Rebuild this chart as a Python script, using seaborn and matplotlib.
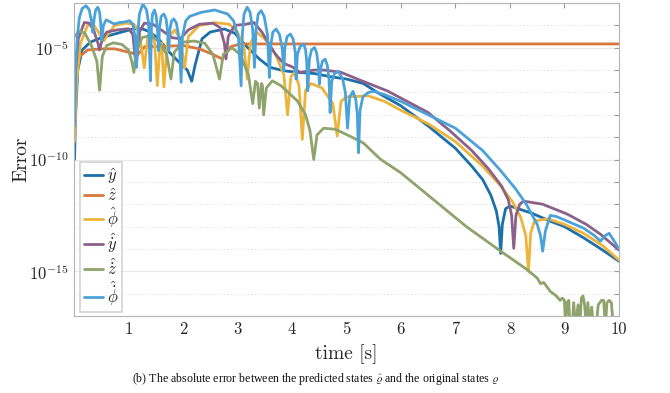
import numpy as np
import pandas as pd
import seaborn as sns
import matplotlib
matplotlib.use("Agg")
import matplotlib.pyplot as plt

# (time [s], log10 of absolute error)
y_hat = [(0.01, -10.0), (0.03, -8.0), (0.07, -6.0), (0.15, -5.1), (0.3, -4.75), (0.5, -4.55),
         (0.8, -4.35), (1.1, -4.15), (1.25, -4.15), (1.4, -4.3), (1.55, -4.6), (1.75, -5.2),
         (1.95, -5.7), (2.08, -6.0), (2.16, -6.5), (2.22, -5.8), (2.35, -4.6), (2.5, -4.3),
         (2.76, -4.16), (2.95, -4.35), (3.15, -4.9), (3.4, -5.5), (3.6, -5.88), (3.85, -6.03),
         (4.1, -6.1), (4.4, -6.15), (4.72, -6.3), (5.0, -6.4), (5.31, -6.6), (5.6, -7.05),
         (6.0, -7.6), (6.5, -8.5), (7.0, -9.5), (7.3, -10.3), (7.5, -10.9), (7.65, -11.6),
         (7.75, -12.3), (7.8, -13.0), (7.83, -14.2), (7.86, -12.9), (7.92, -12.2), (8.0, -12.08),
         (8.15, -12.2), (8.4, -12.4), (8.74, -12.76), (9.0, -13.0), (9.35, -13.5), (9.7, -14.05),
         (9.85, -14.3), (10.0, -14.55)]

z_hat = [(0.01, -8.0), (0.04, -6.0), (0.1, -5.4), (0.25, -5.1), (0.5, -5.05), (0.75, -5.05),
         (1.0, -5.2), (1.17, -5.3), (1.3, -4.95), (1.55, -4.95), (2.0, -4.9), (2.3, -5.05),
         (2.55, -5.3), (2.72, -5.5), (2.88, -4.95), (3.05, -4.83), (10.0, -4.83)]

phi_hat = [(0.01, -9.2), (0.05, -6.5), (0.12, -4.8), (0.25, -4.0), (0.35, -3.95), (0.45, -4.3),
           (0.55, -4.7), (0.62, -4.4), (0.75, -4.0), (0.95, -3.9), (1.1, -3.95), (1.2, -4.3),
           (1.29, -5.9), (1.35, -4.6), (1.42, -4.3), (1.48, -4.8), (1.53, -6.7), (1.58, -4.8),
           (1.61, -4.8), (1.65, -6.75), (1.72, -4.6), (1.85, -4.2), (1.95, -4.6), (2.03, -5.9),
           (2.1, -4.5), (2.3, -4.0), (2.6, -3.88), (2.85, -3.95), (3.0, -4.3), (3.12, -5.0),
           (3.18, -6.4), (3.24, -4.8), (3.35, -4.3), (3.5, -4.6), (3.7, -5.3), (3.85, -6.2),
           (3.92, -8.0), (3.98, -6.3), (4.05, -6.1), (4.13, -6.7), (4.19, -9.1), (4.25, -6.9),
           (4.35, -6.6), (4.55, -6.8), (4.75, -7.5), (4.83, -8.95), (4.9, -7.4), (5.0, -7.2),
           (5.4, -7.15), (5.7, -7.4), (6.0, -7.8), (6.5, -8.4), (7.0, -9.2), (7.5, -10.3),
           (7.8, -11.1), (8.05, -11.9), (8.2, -12.6), (8.29, -13.4), (8.34, -15.0), (8.38, -13.3),
           (8.45, -12.75), (8.7, -12.65), (9.0, -12.9), (9.35, -13.3), (9.7, -13.85), (10.0, -14.5)]

ydot_hat = [(0.01, -7.5), (0.03, -6.0), (0.08, -4.6), (0.19, -3.87), (0.28, -3.9), (0.36, -4.2),
            (0.44, -4.8), (0.47, -5.1), (0.52, -4.6), (0.6, -4.3), (0.8, -4.2), (1.0, -4.15),
            (1.08, -4.4), (1.14, -5.85), (1.2, -4.3), (1.29, -3.9), (1.45, -3.95), (1.6, -4.2),
            (1.8, -4.55), (1.95, -4.6), (2.1, -4.2), (2.3, -3.95), (2.55, -3.9), (2.68, -4.1),
            (2.76, -4.8), (2.79, -5.5), (2.83, -4.5), (2.95, -4.0), (3.15, -3.95), (3.3, -3.87),
            (3.45, -4.3), (3.57, -4.8), (3.7, -5.3), (3.85, -5.7), (4.0, -5.85), (4.15, -6.1),
            (4.4, -6.0), (4.6, -6.0), (4.9, -6.1), (5.2, -6.4), (5.75, -6.93), (6.5, -7.9),
            (6.9, -8.72), (7.3, -9.6), (7.6, -10.4), (7.85, -11.2), (7.97, -11.8), (8.03, -12.5),
            (8.07, -13.97), (8.11, -12.5), (8.18, -12.0), (8.25, -11.86), (8.6, -12.0),
            (9.05, -12.44), (9.4, -12.9), (9.66, -13.34), (10.0, -14.05)]

zdot_hat = [(0.01, -4.5), (0.1, -4.25), (0.2, -4.35), (0.32, -4.9), (0.42, -5.6), (0.47, -6.9),
            (0.52, -5.4), (0.6, -4.9), (0.72, -4.78), (0.88, -4.85), (1.0, -5.1), (1.06, -5.6),
            (1.1, -6.1), (1.14, -5.2), (1.25, -4.55), (1.4, -4.45), (1.55, -4.7), (1.7, -5.3),
            (1.78, -6.4), (1.84, -5.2), (2.0, -4.75), (2.2, -4.7), (2.4, -4.8), (2.55, -5.3),
            (2.67, -6.4), (2.74, -5.3), (2.9, -5.0), (3.05, -5.3), (3.2, -6.2), (3.28, -7.5),
            (3.33, -6.5), (3.37, -6.6), (3.40, -7.7), (3.44, -6.6), (3.46, -6.7), (3.48, -8.0),
            (3.53, -6.8), (3.64, -6.48), (3.8, -6.7), (4.1, -7.38), (4.25, -8.0), (4.33, -8.7),
            (4.4, -10.0), (4.46, -8.9), (4.58, -8.6), (4.8, -8.65), (5.1, -9.0), (5.31, -9.26),
            (5.62, -9.98), (6.0, -10.6), (6.63, -11.86), (7.2, -13.0), (7.83, -14.1),
            (8.3, -14.9), (8.5, -15.3), (8.56, -15.55), (8.62, -15.5), (8.74, -15.9),
            (8.85, -16.1), (8.92, -16.3), (8.96, -16.2), (9.0, -16.3), (9.02, -17.5),
            (9.05, -16.4), (9.08, -16.3), (9.1, -17.5), (9.14, -17.5), (9.17, -16.4), (9.2, -17.5),
            (9.25, -16.5), (9.28, -17.5), (9.31, -16.2), (9.34, -16.1), (9.37, -16.5), (9.4, -17.5),
            (9.43, -16.4), (9.46, -17.5), (9.5, -16.6), (9.53, -17.5), (9.58, -17.5), (9.62, -16.5),
            (9.68, -16.3), (9.72, -16.3), (9.75, -17.5), (9.78, -16.4), (9.82, -16.3),
            (9.86, -16.4), (9.9, -17.5), (10.0, -17.5)]

phidot_hat = [(0.01, -8.5), (0.03, -6.0), (0.06, -4.5), (0.10, -3.64), (0.15, -3.25), (0.22, -3.12),
              (0.28, -3.3), (0.32, -3.8), (0.345, -4.31), (0.37, -3.7), (0.40, -3.3), (0.437, -3.19),
              (0.47, -3.4), (0.49, -3.9), (0.51, -4.69), (0.54, -4.0), (0.59, -3.75), (0.67, -3.85),
              (0.74, -3.94), (0.84, -3.87), (0.93, -3.85), (1.02, -3.79), (1.08, -3.95), (1.12, -4.5),
              (1.147, -5.88), (1.17, -4.4), (1.20, -3.5), (1.263, -3.04), (1.33, -3.3), (1.37, -3.9),
              (1.404, -6.48), (1.42, -4.2), (1.44, -3.5), (1.477, -3.31), (1.51, -3.6), (1.535, -4.3),
              (1.55, -5.13), (1.57, -4.1), (1.60, -3.6), (1.648, -3.49), (1.69, -3.7), (1.72, -4.3),
              (1.74, -5.13), (1.76, -4.2), (1.79, -3.8), (1.832, -3.71), (1.88, -3.9), (1.93, -4.6),
              (1.966, -6.55), (1.99, -4.5), (2.05, -3.8), (2.12, -3.6), (2.33, -3.42), (2.58, -3.31),
              (2.82, -3.49), (2.93, -3.8), (3.02, -4.6), (3.067, -6.70), (3.09, -4.4), (3.12, -3.5),
              (3.177, -3.19), (3.23, -3.4), (3.28, -4.2), (3.312, -5.88), (3.34, -4.2), (3.38, -3.5),
              (3.434, -3.34), (3.49, -3.6), (3.55, -4.4), (3.587, -6.33), (3.61, -4.9), (3.65, -4.3),
              (3.709, -4.16), (3.77, -4.4), (3.82, -5.0), (3.85, -6.03), (3.87, -5.0), (3.91, -4.5),
              (3.972, -4.39), (4.02, -4.6), (4.06, -5.2), (4.076, -6.40), (4.10, -5.3), (4.15, -4.95),
              (4.217, -4.83), (4.25, -5.1), (4.27, -5.6), (4.29, -6.93), (4.32, -5.5), (4.36, -5.1),
              (4.413, -4.99), (4.45, -5.2), (4.48, -5.7), (4.505, -6.63), (4.53, -5.9), (4.56, -5.6),
              (4.609, -5.51), (4.65, -5.8), (4.68, -6.4), (4.70, -7.9), (4.73, -6.5), (4.78, -6.15),
              (4.85, -6.05), (4.93, -6.4), (4.98, -7.0), (5.02, -8.6), (5.06, -7.2), (5.12, -6.95),
              (5.17, -7.3), (5.20, -8.0), (5.22, -9.7), (5.25, -7.8), (5.3, -7.2), (5.4, -7.0),
              (5.5, -6.95), (5.7, -7.1), (6.0, -7.4), (6.5, -8.0), (7.0, -8.6), (7.5, -9.6),
              (7.83, -10.5), (8.1, -11.3), (8.3, -12.0), (8.5, -12.9), (8.56, -13.4), (8.6, -14.1),
              (8.65, -13.2), (8.74, -12.5), (8.85, -12.55), (9.0, -12.7), (9.35, -13.07),
              (9.55, -13.4), (9.66, -13.65), (9.75, -13.4), (9.82, -13.3), (9.9, -13.6), (10.0, -14.0)]

labels = [r"$\hat{y}$", r"$\hat{z}$", r"$\hat{\phi}$",
          r"$\hat{\dot{y}}$", r"$\hat{\dot{z}}$", r"$\hat{\dot{\phi}}$"]
colors = ["#1d6fa9", "#d9773f", "#edb43c", "#8c6088", "#8fa36c", "#4ba2d8"]
series = [y_hat, z_hat, phi_hat, ydot_hat, zdot_hat, phidot_hat]

sns.set_theme(style="white")
plt.rcParams["font.family"] = ["serif"]
plt.rcParams["font.serif"] = ["cmr10", "DejaVu Serif"]
plt.rcParams["mathtext.fontset"] = "cm"
plt.rcParams["axes.unicode_minus"] = False
plt.rcParams["axes.formatter.use_mathtext"] = True

fig = plt.figure(figsize=(6.70, 3.93), dpi=100)
ax = fig.add_axes([0.1104, 0.1959, 0.8134, 0.7964])

for pts, lab, col in zip(series, labels, colors):
    df = pd.DataFrame(pts, columns=["time", "logerr"])
    df["err"] = 10.0 ** df["logerr"]
    sns.lineplot(data=df, x="time", y="err", color=col, lw=2.0, label=lab,
                 ax=ax, sort=False, estimator=None)

ax.set_yscale("log")
ax.set_xlim(0, 10)
ax.set_ylim(1e-17, 1e-3)

ax.set_xticks(range(1, 11))
ax.set_xticklabels([str(i) for i in range(1, 11)])
ax.set_yticks([1e-15, 1e-10, 1e-5])
ax.set_yticklabels([r"$10^{-15}$", r"$10^{-10}$", r"$10^{-5}$"])
ax.set_yticks([10.0 ** k for k in range(-17, -2) if k not in (-15, -10, -5)], minor=True)
ax.yaxis.set_minor_formatter(matplotlib.ticker.NullFormatter())

ax.tick_params(which="both", direction="in", top=True, right=True, length=3.5,
               width=0.8, color="#9a9a9a", labelsize=12, labelcolor="#262626", pad=4)
ax.grid(True, which="major", axis="y", color="#e8e8e8", lw=0.8, ls="-")
ax.grid(True, which="minor", axis="y", color="#d6d6d6", lw=0.7, ls=(0, (1, 2.5)))
ax.grid(False, axis="x")
for s in ax.spines.values():
    s.set_color("#b4b4b4")
    s.set_linewidth(0.8)

ax.set_xlabel("time [s]", fontsize=14, color="#262626")
ax.set_ylabel("Error", fontsize=14, color="#262626")
ax.xaxis.set_label_coords(0.5, -0.09)
ax.yaxis.set_label_coords(-0.08, 0.5)

leg = ax.legend(loc="lower left", bbox_to_anchor=(0.011, 0.013), borderaxespad=0,
                frameon=True, fancybox=False, edgecolor="#c8c8c8", fontsize=12,
                handlelength=1.15, handletextpad=0.2, labelspacing=0.08, borderpad=0.25)
leg.get_frame().set_linewidth(1.2)

fig.text(0.4716, 0.0356,
         r"(b) The absolute error between the predicted states $\hat{\varrho}$ and the original states $\varrho$",
         family=["Liberation Serif", "DejaVu Serif"], fontsize=8.6, ha="center", va="center",
         color="#111111")

fig.savefig("out.png", dpi=100, facecolor="white")
